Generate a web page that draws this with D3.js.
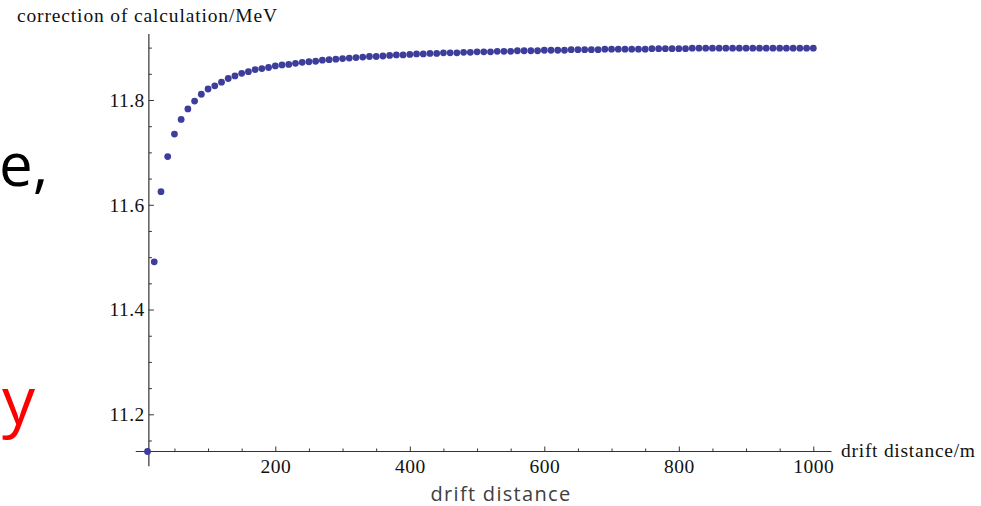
<!DOCTYPE html>
<html><head><meta charset="utf-8">
<script src="https://cdn.jsdelivr.net/npm/d3@7"></script>
<style>html,body{margin:0;padding:0;background:#fff;}svg{display:block;}</style>
</head><body>
<svg id="chart" width="981" height="506"></svg>
<script>
// ---- data ----
const distance = [10,20,30,40,50,60,70,80,90,100,110,120,130,140,150,160,170,180,190,200,
  210,220,230,240,250,260,270,280,290,300,310,320,330,340,350,360,370,380,390,400,
  410,420,430,440,450,460,470,480,490,500,510,520,530,540,550,560,570,580,590,600,
  610,620,630,640,650,660,670,680,690,700,710,720,730,740,750,760,770,780,790,800,
  810,820,830,840,850,860,870,880,890,900,910,920,930,940,950,960,970,980,990,1000];
const correction = [11.129,11.491,11.625,11.692,11.735,11.763,11.783,11.798,11.811,11.821,
  11.827,11.834,11.841,11.846,11.851,11.854,11.858,11.860,11.862,11.865,
  11.867,11.868,11.870,11.872,11.873,11.874,11.876,11.877,11.878,11.879,
  11.880,11.881,11.882,11.883,11.883,11.884,11.885,11.886,11.886,11.887,
  11.888,11.888,11.889,11.889,11.890,11.890,11.890,11.891,11.891,11.892,
  11.892,11.892,11.893,11.893,11.893,11.894,11.894,11.894,11.894,11.895,
  11.895,11.895,11.895,11.896,11.896,11.896,11.896,11.896,11.897,11.897,
  11.897,11.897,11.897,11.897,11.897,11.898,11.898,11.898,11.898,11.898,
  11.898,11.899,11.899,11.899,11.899,11.899,11.899,11.899,11.899,11.899,
  11.899,11.899,11.899,11.899,11.899,11.899,11.899,11.899,11.899,11.899];
const xMajorTicks = [200,400,600,800,1000];
const xMinorTicks = [50,100,150,250,300,350,450,500,550,650,700,750,850,900,950];
const yMajorTicks = [11.2,11.4,11.6,11.8];
const yMinorTicks = [11.15,11.25,11.3,11.35,11.45,11.5,11.55,11.65,11.7,11.75,11.85,11.9];
const yAxisTitle = "correction of calculation/MeV";
const xAxisTitle = "drift distance/m";
const slideCaption = "drift distance";

// ---- layout ----
const svg = d3.select("#chart");
const x = d3.scaleLinear().domain([0,1000]).range([140.8, 813.3]);
const y = d3.scaleLinear().domain([11.8,11.2]).range([100, 414.3]);
const xCross = 12;          // where the vertical axis sits (data units)
const yCross = 11.129;      // where the horizontal axis sits
const serif = "'Liberation Serif','Times New Roman',serif";
const axisColor = "#333";
const labelSize = 19.5;
const labelSpacing = "0.5px";

// slide fragments behind the figure
svg.append("text").attr("x", -1).attr("y", 186).attr("text-anchor","start")
  .attr("font-family","'Open Sans',sans-serif").attr("font-size",60).attr("fill","#000").text("e,");
svg.append("text").attr("x", 35).attr("y", 424).attr("text-anchor","end")
  .attr("font-family","'Open Sans',sans-serif").attr("font-size",66).attr("fill","#ff0000").text("y");
svg.append("text").attr("x", 501).attr("y", 501).attr("text-anchor","middle")
  .attr("font-family","'Open Sans',sans-serif").attr("font-size",20).attr("letter-spacing","1.3px")
  .attr("fill","#404040").text(slideCaption);

// axes lines
svg.append("line").attr("x1", x(-7.5)).attr("x2", x(1027)).attr("y1", y(yCross)).attr("y2", y(yCross))
  .attr("stroke", axisColor).attr("stroke-width",1.2);
svg.append("line").attr("x1", x(xCross)).attr("x2", x(xCross)).attr("y1", y(11.101)).attr("y2", y(11.926))
  .attr("stroke", axisColor).attr("stroke-width",1.2);

// x axis ticks
const gx = svg.append("g").attr("transform", `translate(0,${y(yCross)})`);
gx.call(d3.axisBottom(x).tickValues(xMajorTicks).tickSize(-5).tickPadding(8).tickFormat(d3.format("d")));
const gxm = svg.append("g").attr("transform", `translate(0,${y(yCross)})`);
gxm.call(d3.axisBottom(x).tickValues(xMinorTicks).tickSize(-3).tickFormat(""));
[gx,gxm].forEach(g=>{ g.select(".domain").remove(); g.selectAll("line").attr("stroke",axisColor);
  g.selectAll("text").attr("font-family",serif).attr("font-size",labelSize).attr("letter-spacing",labelSpacing).attr("fill","#111"); });

// y axis ticks
const gy = svg.append("g").attr("transform", `translate(${x(xCross)},0)`);
gy.call(d3.axisLeft(y).tickValues(yMajorTicks).tickSize(-5).tickPadding(4).tickFormat(d3.format(".1f")));
const gym = svg.append("g").attr("transform", `translate(${x(xCross)},0)`);
gym.call(d3.axisLeft(y).tickValues(yMinorTicks).tickSize(-3).tickFormat(""));
[gy,gym].forEach(g=>{ g.select(".domain").remove(); g.selectAll("line").attr("stroke",axisColor);
  g.selectAll("text").attr("font-family",serif).attr("font-size",labelSize).attr("letter-spacing",labelSpacing).attr("fill","#111"); });

// axis titles
svg.append("text").attr("x",17).attr("y",22).attr("font-family",serif).attr("font-size",labelSize)
  .attr("textLength",260).attr("lengthAdjust","spacing").attr("fill","#111").text(yAxisTitle);
svg.append("text").attr("x",841).attr("y",457).attr("font-family",serif).attr("font-size",labelSize)
  .attr("textLength",134).attr("lengthAdjust","spacing").attr("fill","#111").text(xAxisTitle);

// points
svg.append("g").selectAll("circle").data(distance.map((d,i)=>[d,correction[i]])).join("circle")
  .attr("cx", d=>x(d[0])).attr("cy", d=>y(d[1])).attr("r", 3.4).attr("fill", "#3d3d9c");
</script>
</body></html>
